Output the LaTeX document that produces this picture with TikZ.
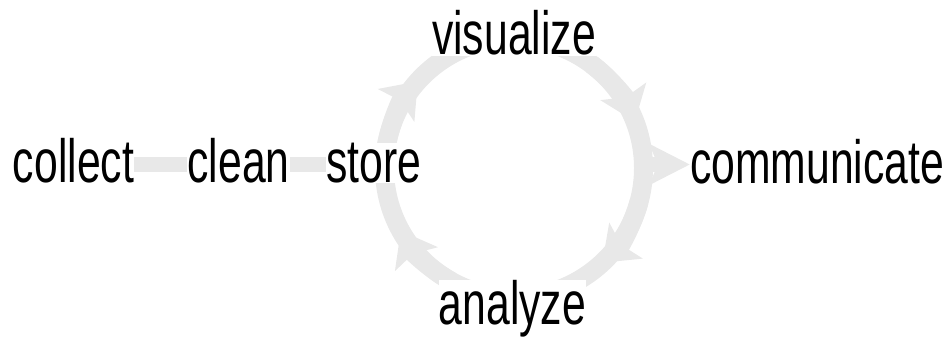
\documentclass[tikz,border=0pt]{standalone}
\usepackage{fontspec}
\setmainfont{Liberation Sans}[FakeStretch=0.7]
\usetikzlibrary{arrows.meta,backgrounds,calc}
\definecolor{ringgray}{RGB}{232,232,232}
\tikzset{
  lbl/.style={font=\fontsize{61}{70}\selectfont, fill=white, inner sep=0pt, anchor=base},
  flow/.style={draw=ringgray, line width=15pt},
  ringline/.style={draw=ringgray, line width=19pt},
  ringhead/.style={draw=ringgray, line width=19pt, -{Stealth[length=32pt,width=48pt,inset=6pt]}},
  flowhead/.style={draw=ringgray, line width=15pt, -{Stealth[length=40pt,width=40pt,inset=8pt]}},
}
\begin{document}
\begin{tikzpicture}[x=1pt,y=1pt]
\useasboundingbox (0,0) rectangle (947,338);
\node[lbl] (collect) at (73.5,156) {collect};
\node[lbl] (clean) at (238.5,156) {clean};
\node[lbl] (store) at (373.5,156) {store};
\node[lbl] (visualize) at (514,283) {visualize};
\node[lbl] (analyze) at (512.5,13.5) {analyze};
\node[lbl] (communicate) at (817,155) {communicate};
\coordinate (c) at (514,170);
\coordinate (fy) at (0,173.5);
\coordinate (ringE) at (643.5,173.5);
\begin{scope}[on background layer]
  \draw[ringline] (c) circle[radius=129.5];
  \draw[ringhead] ($(c)+(170:129.5)$) arc[start angle=170, end angle=138, radius=129.5];
  \draw[ringhead] ($(c)+(53:129.5)$) arc[start angle=53, end angle=21, radius=129.5];
  \draw[ringhead] ($(c)+(-15:129.5)$) arc[start angle=-15, end angle=-47, radius=129.5];
  \draw[ringhead] ($(c)+(-119:129.5)$) arc[start angle=-119, end angle=-151, radius=129.5];
  \draw[flow] (collect.east |- fy) -- (clean.west |- fy);
  \draw[flow] (clean.east |- fy) -- (store.west |- fy);
  \draw[flowhead] (ringE) -- (communicate.west |- fy);
\end{scope}
\end{tikzpicture}
\end{document}
